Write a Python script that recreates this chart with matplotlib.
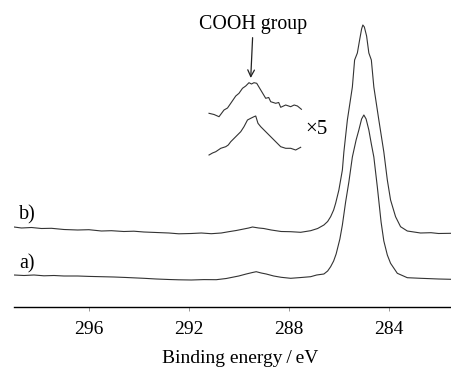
import matplotlib
matplotlib.use("Agg")
import matplotlib.pyplot as plt

plt.rcParams['font.family'] = ['Liberation Serif', 'DejaVu Serif']

# spectrum b) (binding energy in eV, intensity in arb. units)
b_ev = [299.0, 298.7, 298.3, 297.9, 297.5, 297.0, 296.45, 296.0, 295.5, 295.1,
        294.6, 294.2, 293.8, 293.3, 292.8, 292.4, 291.9, 291.5, 291.1, 290.7,
        290.4, 290.1, 289.8, 289.6, 289.45, 289.2, 289.0, 288.7, 288.3, 287.92,
        287.52, 287.12, 286.84, 286.59, 286.44, 286.32, 286.2, 286.12, 285.99, 285.85,
        285.79, 285.65, 285.45, 285.36, 285.25, 285.16, 285.08, 285.03, 284.97, 284.88,
        284.79, 284.69, 284.59, 284.39, 284.19, 284.05, 283.92, 283.72, 283.52, 283.25,
        282.72, 282.3, 282.0, 281.5]
b_int = [80, 79, 79.5, 78.5, 78.7, 77.5, 77, 77.3, 76, 76.3,
         75.5, 75.8, 75, 74.5, 74, 73.2, 73.5, 74, 73.3, 74,
         75.3, 76.5, 78, 79, 80, 79, 78.5, 77, 75.5, 75.3,
         74.7, 76.3, 78.5, 82, 85.5, 90.3, 97, 103.7, 117, 137,
         155, 187, 220, 247, 254, 267, 278, 282, 280, 271,
         254, 247, 220, 187, 155, 127, 107, 90.3, 80.3, 76,
         74, 74.3, 73.5, 73.7]

# spectrum a)
a_ev = [299.0, 298.6, 298.2, 297.8, 297.4, 297.0, 296.45, 296.0, 295.5, 295.0,
        294.5, 293.8, 293.3, 292.8, 292.4, 291.9, 291.4, 290.9, 290.5, 290.0,
        289.7, 289.45, 289.3, 289.1, 288.9, 288.6, 288.3, 287.92, 287.5, 287.12,
        286.88, 286.59, 286.44, 286.32, 286.2, 286.1, 285.95, 285.85, 285.72, 285.59,
        285.45, 285.3, 285.19, 285.08, 284.99, 284.9, 284.79, 284.69, 284.59, 284.45,
        284.3, 284.19, 284.05, 283.92, 283.65, 283.25, 282.72, 282.3, 282.0, 281.5]
a_int = [32, 31.5, 32, 31.2, 31.5, 31, 31, 30.6, 30.3, 30,
         29.5, 28.7, 28, 27.5, 27.2, 27, 27.4, 27.3, 28.5, 31,
         33, 34.5, 35.3, 34, 33, 31, 29.7, 28.7, 29.5, 30.3,
         32, 33, 36, 40.3, 46, 53, 68, 82, 105, 125,
         150, 167, 177, 188, 192, 188, 177, 163, 150, 120,
         85, 66, 52, 43.7, 33.7, 29.3, 28.7, 28.3, 28, 27.7]

# x5 magnified COOH region (upper = b, lower = a)
mb_ev = [291.19, 290.99, 290.79, 290.59, 290.45, 290.32, 290.12, 289.99, 289.85, 289.72,
         289.59, 289.49, 289.39, 289.28, 289.12, 288.92, 288.8, 288.72, 288.52,
         288.4, 288.32, 288.12, 287.92, 287.78, 287.65, 287.49]
mb_int = [193.7, 192.5, 190.3, 197, 199, 203.7, 211, 213.7, 218.7, 221,
          224.3, 223, 224.3, 223.7, 217, 208.7, 209.5, 205.3, 203.7,
          204.5, 199.7, 202, 200.3, 202, 201, 197.7]

ma_ev = [291.19, 291.05, 290.92, 290.72, 290.52, 290.42, 290.32, 290.12, 289.92, 289.79,
         289.65, 289.52, 289.39, 289.32, 289.23, 289.12, 288.92, 288.72, 288.52,
         288.32, 288.12, 287.92, 287.72, 287.52]
ma_int = [152, 154, 155.3, 158.7, 160.3, 162, 165.3, 170.3, 175.3, 180.3,
          187, 188.7, 190.3, 191, 183.7, 180.3, 175.3, 170.3, 165.3,
          160.3, 158.7, 158.7, 157, 159.7]

xticks = [296, 292, 288, 284]

fig = plt.figure(figsize=(4.51, 3.70), dpi=100)
ax = fig.add_axes([14/451, 63/370, 437/451, 297/370])

lc = '#333333'
for x, y in [(b_ev, b_int), (a_ev, a_int), (mb_ev, mb_int), (ma_ev, ma_int)]:
    ax.plot(x, y, color=lc, lw=0.8)

ax.set_xlim(299, 281.5)
ax.set_ylim(0, 297)
ax.set_xticks(xticks)
ax.set_xticklabels([str(t) for t in xticks], fontsize=14)
ax.set_yticks([])
for s in ['left', 'right', 'top']:
    ax.spines[s].set_visible(False)
ax.spines['bottom'].set_linewidth(1.0)
ax.tick_params(axis='x', direction='out', length=3, width=0.6, color='#888888', pad=7)
ax.set_xlabel('Binding energy\u2009/\u2009eV', fontsize=14)
ax.xaxis.set_label_coords(0.517, -0.145)

ax.annotate('COOH group', xy=(289.52, 229), xytext=(289.42, 283),
            ha='center', va='center', fontsize=14.3,
            arrowprops=dict(arrowstyle='->', color='#222222', lw=0.9,
                            shrinkA=1, shrinkB=0, mutation_scale=12))
ax.text(286.88, 178, '×5', ha='center', va='center', fontsize=15)
ax.text(298.8, 92, 'b)', ha='left', va='center', fontsize=14.5)
ax.text(298.8, 43, 'a)', ha='left', va='center', fontsize=14.5)

fig.savefig('out.png', dpi=100)
